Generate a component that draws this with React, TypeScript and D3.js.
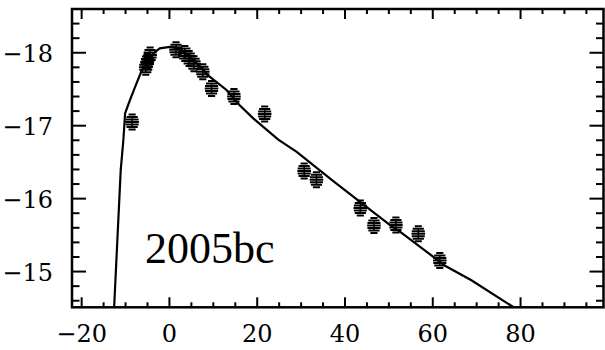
import React, { useEffect, useRef } from 'react';
import * as d3 from 'd3';

// observed photometry (days from max, absolute mag)
const obsDays = [-8.5, -5.4, -5.0, -4.4, 1.5, 3.5, 4.5, 5.6, 7.6, 9.6, 14.7, 21.7, 30.7, 33.5, 43.5, 46.6, 51.6, 56.7, 61.6];
const obsMags = [-17.05, -17.8, -17.88, -17.97, -18.04, -17.99, -17.92, -17.85, -17.74, -17.51, -17.4, -17.16, -16.38, -16.26, -15.87, -15.63, -15.64, -15.52, -15.15];

// model light curve
const modelDays = [-12.8, -12.6, -11.1, -10.5, -10.1, -9.0, -7.5, -6.3, -5.0, -3.7, -2.2, 0.1, 2.0, 4.0, 6.0, 8.8, 13.0, 16.0, 19.1, 24.8, 29.0, 36.9, 45.7, 50.2, 52.9, 62.8, 68.8, 78.7, 80];
const modelMags = [-14.2, -14.51, -16.39, -16.8, -17.17, -17.35, -17.58, -17.76, -17.87, -17.99, -18.06, -18.08, -18.06, -17.98, -17.87, -17.69, -17.49, -17.28, -17.1, -16.81, -16.64, -16.26, -15.85, -15.64, -15.53, -15.08, -14.88, -14.5, -14.45];

const xTicks = [-20, 0, 20, 40, 60, 80];
const yTicks = [-18, -17, -16, -15];
const label = '2005bc';

const App = () => {
  const svgRef = useRef<SVGSVGElement>(null);

  useEffect(() => {
    const width = 605;
    const height = 350;
    const left = 72, right = 603.5, top = 9, bottom = 307.3;
    const tickFont = '"DejaVu Serif", serif';
    const labelFont = '"Liberation Serif", "Times New Roman", serif';

    const svg = d3.select(svgRef.current);
    svg.selectAll('*').remove();
    svg.attr('width', width).attr('height', height);

    const x = d3.scaleLinear().domain([-22.2, 98.9]).range([left, right]);
    const y = d3.scaleLinear().domain([-18.6, -14.51]).range([top, bottom]);

    svg.append('defs').append('clipPath').attr('id', 'plot')
      .append('rect').attr('x', left).attr('y', top)
      .attr('width', right - left).attr('height', bottom - top);

    // model line
    const line = d3.line<number>()
      .x((d, i) => x(modelDays[i]))
      .y((d) => y(d));
    svg.append('path')
      .attr('clip-path', 'url(#plot)')
      .attr('d', line(modelMags))
      .attr('fill', 'none')
      .attr('stroke', '#000')
      .attr('stroke-width', 2.2);

    // markers: hatched ellipses
    const rx = 6.8, ry = 8.8;
    const g = svg.append('g').attr('clip-path', 'url(#plot)');
    obsDays.forEach((d, i) => {
      const cx = x(d), cy = y(obsMags[i]);
      for (let dy = -7.5; dy <= 7.6; dy += 2.5) {
        const hw = rx * Math.sqrt(Math.max(0, 1 - (dy / ry) ** 2));
        g.append('line')
          .attr('x1', cx - hw).attr('x2', cx + hw)
          .attr('y1', cy + dy).attr('y2', cy + dy)
          .attr('stroke', '#000').attr('stroke-width', 2);
      }
      g.append('line')
        .attr('x1', cx).attr('x2', cx)
        .attr('y1', cy - 5).attr('y2', cy + 5)
        .attr('stroke', '#000').attr('stroke-width', 1.5);
    });

    // ticks
    const ax = svg.append('g').attr('stroke', '#000').attr('stroke-width', 2);
    d3.range(-20, 99, 5).forEach((t) => {
      const major = t % 20 === 0;
      const len = major ? 10 : 5;
      ax.append('line').attr('x1', x(t)).attr('x2', x(t)).attr('y1', bottom).attr('y2', bottom - len);
      ax.append('line').attr('x1', x(t)).attr('x2', x(t)).attr('y1', top).attr('y2', top + len);
    });
    d3.range(-18.4, -14.5, 0.2).forEach((m) => {
      const major = Math.abs(m - Math.round(m)) < 0.01;
      const len = major ? 14 : 7.5;
      ax.append('line').attr('x1', left).attr('x2', left + len).attr('y1', y(m)).attr('y2', y(m));
      ax.append('line').attr('x1', right).attr('x2', right - len).attr('y1', y(m)).attr('y2', y(m));
    });

    // frame
    svg.append('rect')
      .attr('x', left).attr('y', top)
      .attr('width', right - left).attr('height', bottom - top)
      .attr('fill', 'none').attr('stroke', '#000').attr('stroke-width', 2.5);

    // tick labels
    svg.selectAll('.xl').data(xTicks).enter().append('text')
      .attr('x', (d) => x(d)).attr('y', 341.7)
      .attr('text-anchor', 'middle')
      .attr('font-family', tickFont).attr('font-size', 24)
      .text((d) => (d < 0 ? '\u2212' + Math.abs(d) : String(d)));

    svg.selectAll('.yl').data(yTicks).enter().append('text')
      .attr('x', 53).attr('y', (d) => y(d) + 9.5)
      .attr('text-anchor', 'end')
      .attr('font-family', tickFont).attr('font-size', 24)
      .text((d) => '\u2212' + Math.abs(d));

    svg.append('text')
      .attr('x', 145).attr('y', 263.3)
      .attr('font-family', labelFont).attr('font-size', 44)
      .text(label);
  }, []);

  return (
    <div style={{ position: 'absolute', left: 0, top: 0 }}>
      <svg ref={svgRef}></svg>
    </div>
  );
};

export default App;
